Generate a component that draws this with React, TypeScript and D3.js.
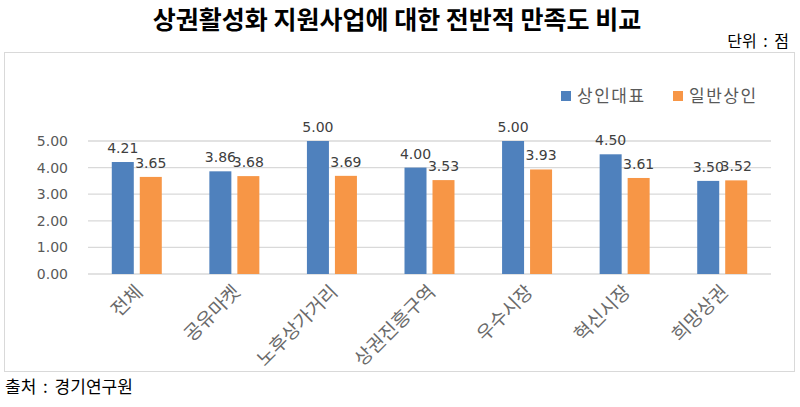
import * as d3 from "d3";

// ---- data ----
const categories = ["전체", "공유마켓", "노후상가거리", "상권진흥구역", "우수시장", "혁신시장", "희망상권"];
const seriesNames = ["상인대표", "일반상인"];
const ownerScores = [4.21, 3.86, 5.0, 4.0, 5.0, 4.5, 3.5];
const merchantScores = [3.65, 3.68, 3.69, 3.53, 3.93, 3.61, 3.52];
const yTicks = [0, 1, 2, 3, 4, 5];

const colors = ["#4F81BD", "#F79646"];
const W = 800;
const H = 407;

export default function App() {
  const x0 = d3.scaleBand<string>().domain(categories).range([88, 771]);
  const x1 = d3.scaleBand<string>().domain(seriesNames).range([0, 50]).paddingInner(0.214);
  const y = d3.scaleLinear().domain([0, 5]).range([274, 141]);
  const values = [ownerScores, merchantScores];
  const fmt = d3.format(".2f");
  const font = "'DejaVu Sans', sans-serif";
  const kfont = "'Noto Sans CJK KR', sans-serif";

  return (
    <svg width={W} height={H} style={{ position: "absolute", left: 0, top: 0, background: "#fff" }}>
      {/* title */}
      <text x={397} y={29} textAnchor="middle" fontFamily={kfont} fontWeight="bold" fontSize={25} fill="#000">
        상권활성화 지원사업에 대한 전반적 만족도 비교
      </text>
      <text x={789} y={47} textAnchor="end" fontFamily={kfont} fontSize={16} fill="#000" wordSpacing={3}>
        단위 : 점
      </text>

      {/* chart frame */}
      <rect x={4.5} y={52.5} width={790} height={319} fill="#fff" stroke="#D9D9D9" />

      {/* legend */}
      {seriesNames.map((s, i) => {
        const lx = [561, 673][i];
        return (
          <g key={s}>
            <rect x={lx} y={91} width={10} height={10} fill={colors[i]} />
            <text x={lx + 16} y={102} fontFamily={kfont} fontSize={17} fill="#595959" letterSpacing={1.5}>
              {s}
            </text>
          </g>
        );
      })}

      {/* grid + y ticks */}
      {yTicks.map((t) => (
        <g key={t}>
          <line x1={88} x2={771} y1={y(t)} y2={y(t)} stroke="#D9D9D9" strokeWidth={1.3} />
          <text x={68} y={y(t) + 5} textAnchor="end" fontFamily={font} fontSize={14} fill="#595959">
            {fmt(t)}
          </text>
        </g>
      ))}

      {/* bars */}
      {categories.map((c, ci) => {
        const cx = x0(c)! + x0.bandwidth() / 2 - 25;
        return (
          <g key={c} transform={`translate(${cx},0)`}>
            {seriesNames.map((s, si) => {
              const v = values[si][ci];
              return (
                <g key={s}>
                  <rect
                    x={x1(s)!}
                    y={y(v)}
                    width={x1.bandwidth()}
                    height={y(0) - y(v)}
                    fill={colors[si]}
                  />
                  <text
                    x={x1(s)! + x1.bandwidth() / 2}
                    y={y(v) - 9}
                    textAnchor="middle"
                    fontFamily={font}
                    fontSize={14}
                    fill="#404040"
                  >
                    {fmt(v)}
                  </text>
                </g>
              );
            })}
          </g>
        );
      })}

      {/* x labels */}
      {categories.map((c) => {
        const cx = x0(c)! + x0.bandwidth() / 2;
        return (
          <text
            key={c}
            transform={`translate(${cx + 3},${289}) rotate(-45)`}
            textAnchor="end"
            dy="0.3em"
            fontFamily={kfont}
            fontSize={19}
            fill="#6a6a6a"
          >
            {c}
          </text>
        );
      })}

      {/* source */}
      <text x={5} y={393} fontFamily={kfont} fontSize={17} fill="#000" wordSpacing={3}>
        출처 : 경기연구원
      </text>
    </svg>
  );
}
